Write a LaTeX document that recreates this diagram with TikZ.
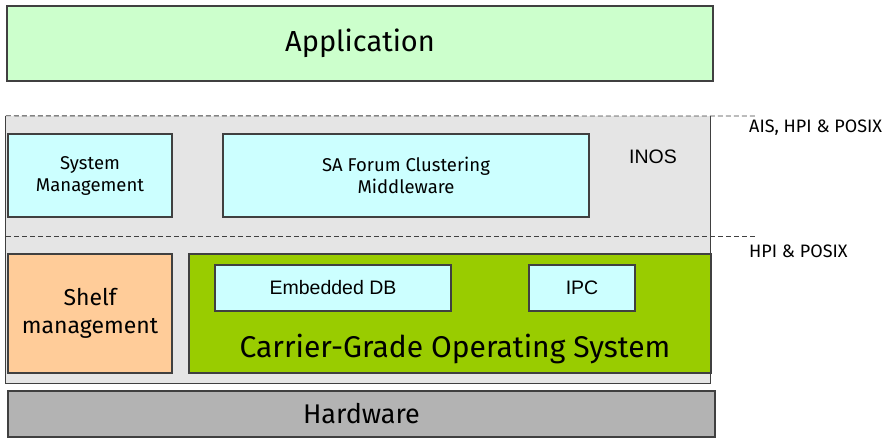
\documentclass[tikz,border=0pt]{standalone}
\usepackage{fontspec}
\setmainfont{Fira Sans}
\newfontfamily\arialfont{Liberation Sans}
\definecolor{appgreen}{HTML}{CCFFCC}
\definecolor{inosgray}{HTML}{E5E5E5}
\definecolor{modcyan}{HTML}{CCFFFF}
\definecolor{shelforange}{HTML}{FFCC99}
\definecolor{osgreen}{HTML}{99CC00}
\definecolor{hwgray}{HTML}{B3B3B3}
\definecolor{edge}{HTML}{404040}
\tikzset{
  layer/.style={draw=edge, line width=1.2pt, inner sep=0pt, align=center},
  module/.style={layer, fill=modcyan, font=\fontsize{18.5}{22}\selectfont},
  api/.style={dashed, line width=0.9pt, dash pattern=on 5pt off 3pt}
}
\begin{document}
\begin{tikzpicture}[x=1pt, y=-1pt]
\useasboundingbox (0,0) rectangle (891,438);
% application layer
\node[layer, fill=appgreen, minimum width=706pt, minimum height=75pt,
  font=\fontsize{29}{33}\selectfont] (app) at (360,43.5) {Application};
% middleware area
\node[fill=inosgray, minimum width=704pt, minimum height=267pt, inner sep=0pt] (inos) at (358,249.5) {};
\draw[edge, line width=1.2pt] (inos.north west) -- (inos.south west) -- (inos.south east) -- (inos.north east);
\node[font=\arialfont\fontsize{19.5}{22}\selectfont] (inoslbl) at (653,157) {INOS};
\node[module, minimum width=164pt, minimum height=83pt] (sysmgmt) at (90,175.5) {System\\Management};
\node[module, minimum width=366pt, minimum height=83pt] (saf) at (406,175.5) {SA Forum Clustering\\Middleware};
% operating system layer
\node[layer, fill=shelforange, minimum width=164pt, minimum height=119pt,
  font=\fontsize{23}{28}\selectfont] (shelf) at (90,313.5) {Shelf\\management};
\node[layer, fill=osgreen, minimum width=522pt, minimum height=119pt] (cgos) at (450,313.5) {};
\node[module, minimum width=236pt, minimum height=46pt, font=\arialfont\fontsize{19.5}{22}\selectfont] (edb) at (333,288) {Embedded DB};
\node[module, minimum width=106pt, minimum height=46pt, font=\arialfont\fontsize{19.5}{22}\selectfont] (ipc) at (582,288) {IPC};
\node[font=\fontsize{30}{34}\selectfont] (cgoslbl) at (455,349) {Carrier-Grade Operating System};
% hardware
\node[layer, fill=hwgray, minimum width=707pt, minimum height=46pt,
  font=\fontsize{27}{31}\selectfont] (hw) at (361.5,414) {Hardware};
% interface lines
\coordinate (aisend) at (757,116);
\coordinate (hpistart) at (6,236);
\coordinate (hpiend) at (757,236);
\draw[edge, api] (inos.north west) -- (aisend);
\draw[edge, api] (hpistart) -- (hpiend);
\node[anchor=west, inner sep=0pt, font=\fontsize{18}{21}\selectfont] (aislbl) at (749,128) {AIS, HPI \& POSIX};
\node[anchor=west, inner sep=0pt, font=\fontsize{18}{21}\selectfont] (hpilbl) at (749,251) {HPI \& POSIX};
\end{tikzpicture}
\end{document}
